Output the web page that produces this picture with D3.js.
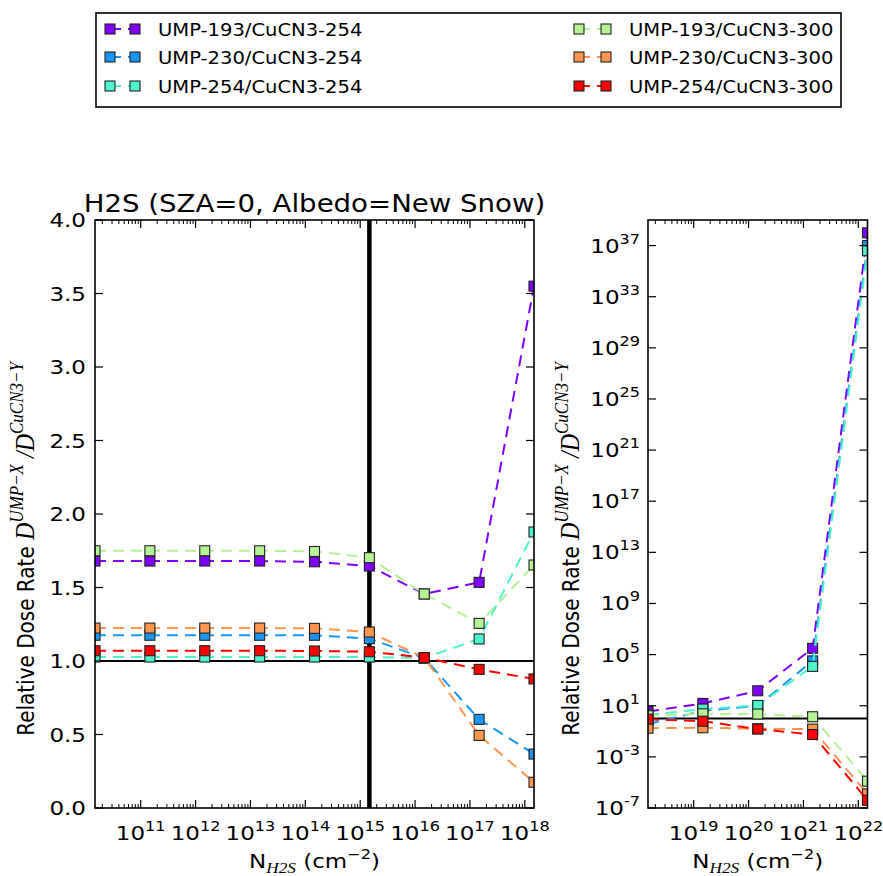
<!DOCTYPE html>
<html><head><meta charset="utf-8">
<script src="https://cdn.jsdelivr.net/npm/d3@7"></script>
<style>body{margin:0;background:#fff}</style>
</head><body>
<svg id="c" width="883" height="876" xmlns="http://www.w3.org/2000/svg"></svg>
<script>
// ---------- data ----------
const seriesNames = ["UMP-193/CuCN3-254","UMP-230/CuCN3-254","UMP-254/CuCN3-254","UMP-193/CuCN3-300","UMP-230/CuCN3-300","UMP-254/CuCN3-300"];
const seriesColors = ["#8000ff","#1996f3","#4df3ce","#b3f396","#ff964f","#ff0000"];
// column densities N_H2S (cm^-2)
const leftN = [1.47e10,1.47e11,1.47e12,1.47e13,1.47e14,1.47e15,1.47e16,1.47e17,1.47e18];
const rightN = [1.47e18,1.47e19,1.47e20,1.47e21,1.47e22];
// relative dose rates, low column densities (left panel)
const leftUMP193_254 = [1.68,1.68,1.68,1.68,1.675,1.646,1.456,1.535,3.55];
const leftUMP230_254 = [1.175,1.175,1.175,1.175,1.175,1.152,1.02,0.603,0.367];
const leftUMP254_254 = [1.027,1.027,1.027,1.027,1.027,1.027,1.02,1.150,1.878];
const leftUMP193_300 = [1.750,1.750,1.750,1.750,1.745,1.703,1.456,1.256,1.653];
const leftUMP230_300 = [1.224,1.224,1.224,1.224,1.222,1.197,1.023,0.494,0.175];
const leftUMP254_300 = [1.070,1.070,1.070,1.070,1.068,1.063,1.023,0.943,0.878];
// relative dose rates, high column densities (right panel)
const rightUMP193_254 = [3.55,15.1,148,3.1e5,1.0e38];
const rightUMP230_254 = [0.367,4.0,10.0,3.2e4,1.0e37];
const rightUMP254_254 = [1.878,5.5,10.5,1.2e4,4.0e36];
const rightUMP193_300 = [1.653,2.34,2.24,1.38,1.26e-5];
const rightUMP230_300 = [0.175,0.19,0.158,0.148,1.26e-6];
const rightUMP254_300 = [0.878,0.62,0.151,0.056,4.0e-7];
const leftYTicks = [0.0,0.5,1.0,1.5,2.0,2.5,3.0,3.5,4.0];
const leftXTickExp = [11,12,13,14,15,16,17,18];
const rightXTickExp = [19,20,21,22];
const rightYTickExp = [-7,-3,1,5,9,13,17,21,25,29,33,37];
const titleText = "H2S (SZA=0, Albedo=New Snow)";

const leftData = [leftUMP193_254,leftUMP230_254,leftUMP254_254,leftUMP193_300,leftUMP230_300,leftUMP254_300];
const rightData = [rightUMP193_254,rightUMP230_254,rightUMP254_254,rightUMP193_300,rightUMP230_300,rightUMP254_300];

// ---------- drawing ----------
const svg = d3.select("#c");
const SX = 1.15;
const FONT = "DejaVu Sans";
const MATH = "Liberation Serif";

function label(parent, x, y, anchor, size, parts, rotate) {
  const t = parent.append("text")
    .attr("transform", `translate(${x},${y}) scale(${SX},1)` + (rotate ? " rotate(-90)" : ""))
    .attr("text-anchor", anchor)
    .attr("font-family", FONT)
    .attr("font-size", size)
    .attr("fill", "#000");
  let cur = 0;
  parts.forEach(p => {
    const ts = t.append("tspan").text(p.t);
    const off = p.off || 0;
    ts.attr("dy", off - cur); cur = off;
    if (p.size) ts.attr("font-size", p.size);
    if (p.family) ts.attr("font-family", p.family);
    if (p.italic) ts.attr("font-style", "italic");
  });
  return t;
}
function powLabel(parent, x, y, anchor, e) {
  const s = e < 0 ? "-" + (-e) : String(e);
  return label(parent, x, y, anchor, 20, [{t:"10"},{t:s,size:14,off:-9}]);
}

const L = {x0:95, x1:534, y0:220, y1:808};
const R = {x0:648, x1:867.5, y0:220, y1:808};

const xL = d3.scaleLog().domain([leftN[0], leftN[leftN.length-1]]).range([L.x0, L.x1]);
const yL = d3.scaleLinear().domain([0,4]).range([L.y1, L.y0]);
const xR = d3.scaleLog().domain([rightN[0], rightN[rightN.length-1]]).range([R.x0, R.x1]);
const yR = d3.scaleLog().domain([1e-7,1e39]).range([R.y1, R.y0]);

const defs = svg.append("defs");
defs.append("clipPath").attr("id","clipL").append("rect").attr("x",L.x0).attr("y",L.y0).attr("width",L.x1-L.x0).attr("height",L.y1-L.y0);
defs.append("clipPath").attr("id","clipR").append("rect").attr("x",R.x0).attr("y",R.y0).attr("width",R.x1-R.x0).attr("height",R.y1-R.y0);

function minorLog(lo, hi) {
  const out = [];
  for (let n = Math.floor(Math.log10(lo)); n <= Math.ceil(Math.log10(hi)); n++)
    for (let k = 2; k <= 9; k++) { const v = k * Math.pow(10, n); if (v >= lo && v <= hi) out.push(v); }
  return out;
}

function panel(P, xs, ys, xvals, data, clipId, xMajorExp, yTickVals, vline) {
  const g = svg.append("g");
  const plot = g.append("g").attr("clip-path", `url(#${clipId})`);
  plot.append("line").attr("x1",P.x0).attr("x2",P.x1).attr("y1",ys(1)).attr("y2",ys(1))
    .attr("stroke","#000").attr("stroke-width",2);
  if (vline) plot.append("line").attr("x1",xs(vline)).attr("x2",xs(vline)).attr("y1",P.y0).attr("y2",P.y1)
    .attr("stroke","#000").attr("stroke-width",4.5);
  const line = d3.line().x((d,i)=>xs(xvals[i])).y(d=>ys(d));
  data.forEach((arr, si) => {
    plot.append("path").attr("d", line(arr)).attr("fill","none")
      .attr("stroke", seriesColors[si]).attr("stroke-width",2).attr("stroke-dasharray","11,7");
    plot.selectAll(null).data(arr).enter().append("rect")
      .attr("x",(d,i)=>xs(xvals[i])-5).attr("y",d=>ys(d)-5)
      .attr("width",10).attr("height",10)
      .attr("fill", seriesColors[si]).attr("stroke","#222").attr("stroke-width",1.1);
  });
  g.append("rect").attr("x",P.x0).attr("y",P.y0).attr("width",P.x1-P.x0).attr("height",P.y1-P.y0)
    .attr("fill","none").attr("stroke","#000").attr("stroke-width",1.6);
  const xd = xs.domain();
  xMajorExp.map(e => Math.pow(10,e)).forEach(v => {
    const x = xs(v);
    g.append("line").attr("x1",x).attr("x2",x).attr("y1",P.y1).attr("y2",P.y1-8).attr("stroke","#000").attr("stroke-width",1.2);
    g.append("line").attr("x1",x).attr("x2",x).attr("y1",P.y0).attr("y2",P.y0+8).attr("stroke","#000").attr("stroke-width",1.2);
  });
  minorLog(xd[0], xd[1]).forEach(v => {
    const x = xs(v);
    g.append("line").attr("x1",x).attr("x2",x).attr("y1",P.y1).attr("y2",P.y1-4).attr("stroke","#000").attr("stroke-width",1);
    g.append("line").attr("x1",x).attr("x2",x).attr("y1",P.y0).attr("y2",P.y0+4).attr("stroke","#000").attr("stroke-width",1);
  });
  xMajorExp.forEach(e => powLabel(g, xs(Math.pow(10,e)), 840, "middle", e));
  yTickVals.forEach(v => {
    const y = ys(v);
    g.append("line").attr("x1",P.x0).attr("x2",P.x0+8).attr("y1",y).attr("y2",y).attr("stroke","#000").attr("stroke-width",1.2);
    g.append("line").attr("x1",P.x1).attr("x2",P.x1-8).attr("y1",y).attr("y2",y).attr("stroke","#000").attr("stroke-width",1.2);
  });
  return g;
}

const gl = panel(L, xL, yL, leftN, leftData, "clipL", leftXTickExp, leftYTicks, leftN[5]);
leftYTicks.forEach(v => label(gl, L.x0-9, yL(v)+7, "end", 20, [{t:v.toFixed(1)}]));
const gr = panel(R, xR, yR, rightN, rightData, "clipR", rightXTickExp, rightYTickExp.map(e=>Math.pow(10,e)), null);
rightYTickExp.forEach(e => powLabel(gr, R.x0-8, yR(Math.pow(10,e))+7, "end", e));

label(svg, (L.x0+L.x1)/2, 212, "middle", 24, [{t:titleText}]);

function xlab(cx) {
  label(svg, cx, 868, "middle", 20, [
    {t:"N"},
    {t:"H2S", size:15, family:MATH, italic:true, off:5},
    {t:" (cm", off:0},
    {t:"\u22122", size:14, off:-9},
    {t:")", off:0}
  ]);
}
xlab((L.x0+L.x1)/2);
xlab((R.x0+R.x1)/2);
function ylab(cx, cy) {
  label(svg, cx, cy, "middle", 20, [
    {t:"Relative Dose Rate "},
    {t:"D", size:24, family:MATH, italic:true},
    {t:"UMP\u2212X", size:17, family:MATH, italic:true, off:-10},
    {t:" /", size:24, family:MATH, italic:true, off:0},
    {t:"D", size:24, family:MATH, italic:true},
    {t:"CuCN3\u2212Y", size:17, family:MATH, italic:true, off:-10}
  ], true);
}
ylab(34, 549);
ylab(579, 549);

const lg = svg.append("g");
lg.append("rect").attr("x",96).attr("y",13).attr("width",745).attr("height",94)
  .attr("fill","#fff").attr("stroke","#000").attr("stroke-width",1.6);
const legRows = [29,57,86];
const legCols = [{m1:110,m2:135,tx:158},{m1:579,m2:606,tx:629}];
seriesNames.forEach((name, i) => {
  const c = legCols[Math.floor(i/3)], y = legRows[i%3];
  lg.append("line").attr("x1",c.m1).attr("x2",c.m2).attr("y1",y).attr("y2",y)
    .attr("stroke",seriesColors[i]).attr("stroke-width",2).attr("stroke-dasharray","11,7");
  [c.m1,c.m2].forEach(mx => lg.append("rect").attr("x",mx-5).attr("y",y-5).attr("width",10).attr("height",10)
    .attr("fill",seriesColors[i]).attr("stroke","#222").attr("stroke-width",1.1));
  label(lg, c.tx, y+6.5, "start", 17, [{t:name}]);
});
</script>
</body></html>
